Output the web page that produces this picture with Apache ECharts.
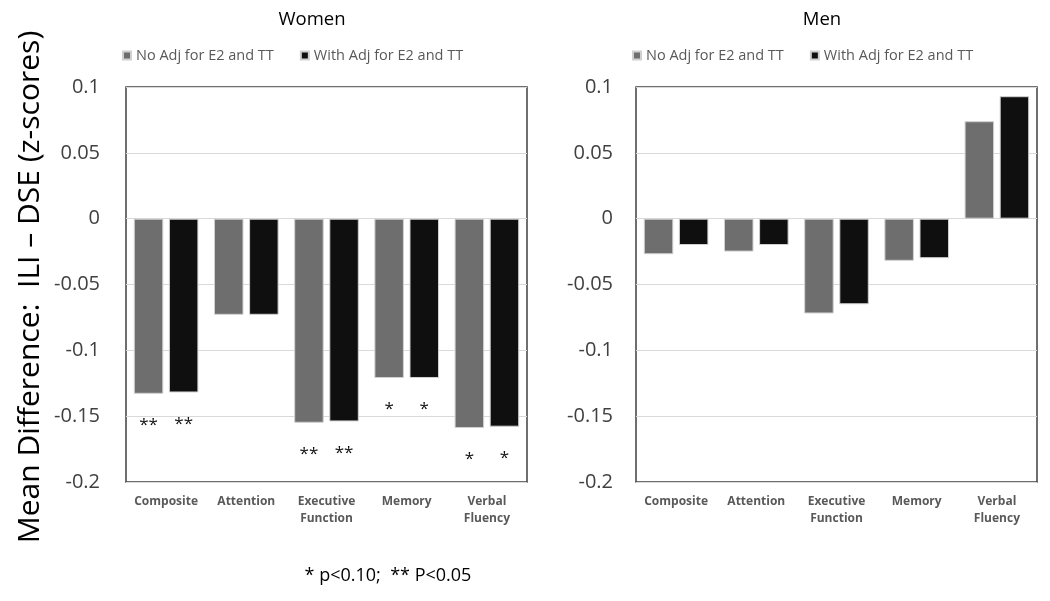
<!DOCTYPE html>
<html>
<head>
<meta charset="utf-8">
<script src="https://cdn.jsdelivr.net/npm/echarts@6/dist/echarts.min.js"></script>
<style>html,body{margin:0;padding:0;background:#fff;}#c{width:1050px;height:601px;}</style>
</head>
<body>
<div id="c"></div>
<script>
const categories = ['Composite', 'Attention', 'Executive\nFunction', 'Memory', 'Verbal\nFluency'];
const seriesNames = ['No Adj for E2 and TT', 'With Adj for E2 and TT'];
const womenNoAdj = [-0.133, -0.073, -0.155, -0.121, -0.159];
const womenWithAdj = [-0.132, -0.073, -0.154, -0.121, -0.158];
const menNoAdj = [-0.027, -0.025, -0.072, -0.032, 0.074];
const menWithAdj = [-0.020, -0.020, -0.065, -0.030, 0.093];
const womenSig = ['**', '', '**', '*', '*'];
const yTicks = { min: -0.2, max: 0.1, interval: 0.05 };
const panelTitles = ['Women', 'Men'];
const yTitle = 'Mean Difference:  ILI \u2013 DSE (z-scores)';
const footnote = '* p<0.10;  ** P<0.05';

const FONT = '"Open Sans", "Liberation Sans", sans-serif';
const GRAY = '#6e6e6e', BLACK = '#0f0f0f';

const chart = echarts.init(document.getElementById('c'));

function fmtTick(v) {
  const r = Math.round(v * 100) / 100;
  return r === 0 ? '0' : String(r);
}

function barSeries(name, data, color, idx, sig) {
  return {
    name: name, type: 'bar', xAxisIndex: idx, yAxisIndex: idx,
    barWidth: 29.5, barGap: '19%',
    itemStyle: { color: color, borderColor: '#d0d0d0', borderWidth: 1 },
    data: data.map((v, i) => ({
      value: v,
      label: sig ? {
        show: !!sig[i], position: 'bottom', distance: 23,
        formatter: sig[i], fontSize: 17, color: '#111', fontFamily: FONT
      } : { show: false }
    })),
    emphasis: { disabled: true },
    animation: false
  };
}

const grids = [
  { left: 126, right: 523, top: 87, bottom: 119 },
  { left: 636, right: 13, top: 87, bottom: 119 }
];

const option = {
  backgroundColor: '#fff',
  animation: false,
  textStyle: { fontFamily: FONT },
  title: [
    { text: panelTitles[0], left: 307, top: 5, textAlign: 'center',
      textStyle: { fontSize: 18.5, fontWeight: 'normal', color: '#000', fontFamily: FONT } },
    { text: panelTitles[1], left: 817, top: 5, textAlign: 'center',
      textStyle: { fontSize: 18.5, fontWeight: 'normal', color: '#000', fontFamily: FONT } },
    { text: footnote, left: 383, top: 562, textAlign: 'center',
      textStyle: { fontSize: 18, fontWeight: 'normal', color: '#000', fontFamily: FONT } }
  ],
  legend: [
    { left: 117, top: 43, itemWidth: 8, itemHeight: 8, itemGap: 26, icon: 'rect',
      data: seriesNames, selectedMode: false,
      textStyle: { fontSize: 14.5, color: '#595959', fontFamily: FONT } },
    { left: 627, top: 43, itemWidth: 8, itemHeight: 8, itemGap: 26, icon: 'rect',
      data: seriesNames, selectedMode: false,
      textStyle: { fontSize: 14.5, color: '#595959', fontFamily: FONT } }
  ],
  grid: grids.map(g => Object.assign({ show: true, borderColor: '#404040', borderWidth: 1.5, backgroundColor: 'transparent' }, g)),
  xAxis: [0, 1].map(i => ({
    type: 'category', gridIndex: i, data: categories,
    axisLine: { show: false }, axisTick: { show: false },
    position: 'bottom',
    axisLabel: { interval: 0, margin: 11, fontSize: 12, fontWeight: 'bold', color: '#595959', lineHeight: 17, fontFamily: FONT }
  })),
  yAxis: [0, 1].map(i => ({
    type: 'value', gridIndex: i, min: yTicks.min, max: yTicks.max, interval: yTicks.interval,
    axisLine: { show: false }, axisTick: { show: false },
    axisLabel: { margin: i === 0 ? 26 : 23, fontSize: 20, color: '#404040', formatter: fmtTick, fontFamily: FONT },
    splitLine: { show: true, lineStyle: { color: '#d9d9d9', width: 1 } }
  })),
  graphic: [
    { type: 'text', x: 30, y: 287, rotation: Math.PI / 2,
      style: { text: yTitle, font: '30px ' + FONT, fill: '#000', align: 'center', verticalAlign: 'middle' } }
  ],
  series: [
    barSeries(seriesNames[0], womenNoAdj, GRAY, 0, womenSig),
    barSeries(seriesNames[1], womenWithAdj, BLACK, 0, womenSig),
    barSeries(seriesNames[0], menNoAdj, GRAY, 1, null),
    barSeries(seriesNames[1], menWithAdj, BLACK, 1, null)
  ]
};
chart.setOption(option);
</script>
</body>
</html>
